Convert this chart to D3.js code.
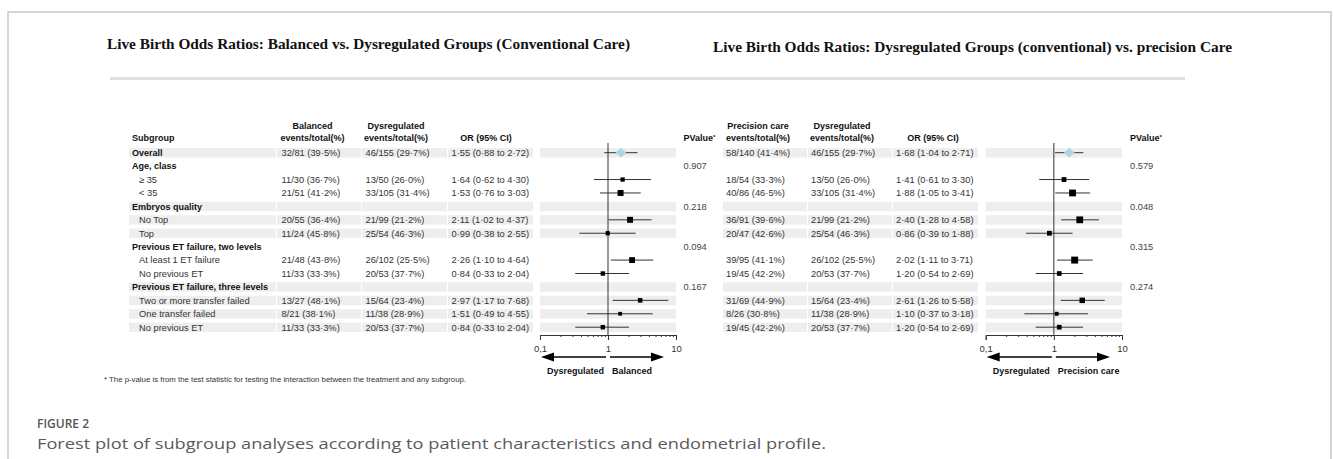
<!DOCTYPE html>
<html>
<head>
<meta charset="utf-8">
<title>Forest plot | D3</title>
<script src="https://d3js.org/d3.v7.min.js" charset="utf-8"></script>
<style>
body { margin: 0; background: white; }
text { font-family: "Liberation Sans", Arial, sans-serif; }
.title { font-family: "Liberation Serif", "Times New Roman", serif; font-weight: bold; font-size: 15px; fill: #111; }
.hd { font-weight: bold; font-size: 9px; fill: #111; }
.cell { font-size: 9.3px; fill: #333; }
.pv { font-size: 9.3px; fill: #444; }
.cap1 { font-family: "Open Sans", sans-serif; font-weight: 600; font-size: 12px; fill: #555; }
.cap2 { font-family: "Open Sans", sans-serif; font-size: 15px; fill: #5a5a5a; }
</style>
</head>
<body>
<script>
// rows of the table
var subgroups = ["Overall", "Age, class", "\u2265 35", "< 35", "Embryos quality", "No Top", "Top",
  "Previous ET failure, two levels", "At least 1 ET failure", "No previous ET",
  "Previous ET failure, three levels", "Two or more transfer failed", "One transfer failed", "No previous ET"];
var isHeader = [1, 1, 0, 0, 1, 0, 0, 1, 0, 0, 1, 0, 0, 0];
var shaded   = [1, 0, 0, 0, 1, 1, 1, 0, 0, 0, 1, 1, 1, 1];

// left panel: balanced vs dysregulated (conventional care)
var balEvents = [32, null, 11, 21, null, 20, 11, null, 21, 11, null, 13, 8, 11];
var balTotal  = [81, null, 30, 51, null, 55, 24, null, 48, 33, null, 27, 21, 33];
var dysEvents = [46, null, 13, 33, null, 21, 25, null, 26, 20, null, 15, 11, 20];
var dysTotal  = [155, null, 50, 105, null, 99, 54, null, 102, 53, null, 64, 38, 53];
var leftOR = [1.55, null, 1.64, 1.53, null, 2.11, 0.99, null, 2.26, 0.84, null, 2.97, 1.51, 0.84];
var leftLo = [0.88, null, 0.62, 0.76, null, 1.02, 0.38, null, 1.10, 0.33, null, 1.17, 0.49, 0.33];
var leftHi = [2.72, null, 4.30, 3.03, null, 4.37, 2.55, null, 4.64, 2.04, null, 7.68, 4.55, 2.04];
var leftP  = ["", "0.907", "", "", "0.218", "", "", "0.094", "", "", "0.167", "", "", ""];

// right panel: dysregulated (conventional) vs precision care
var preEvents = [58, null, 18, 40, null, 36, 20, null, 39, 19, null, 31, 8, 19];
var preTotal  = [140, null, 54, 86, null, 91, 47, null, 95, 45, null, 69, 26, 45];
var rightOR = [1.68, null, 1.41, 1.88, null, 2.40, 0.86, null, 2.02, 1.20, null, 2.61, 1.10, 1.20];
var rightLo = [1.04, null, 0.61, 1.05, null, 1.28, 0.39, null, 1.11, 0.54, null, 1.26, 0.37, 0.54];
var rightHi = [2.71, null, 3.30, 3.41, null, 4.58, 1.88, null, 3.71, 2.69, null, 5.58, 3.18, 2.69];
var rightP  = ["", "0.579", "", "", "0.048", "", "", "0.315", "", "", "0.274", "", "", ""];

var majorTicks = [0.1, 1, 10];
var minorTicks = [0.2, 0.3, 0.4, 0.5, 0.6, 0.7, 0.8, 0.9, 2, 3, 4, 5, 6, 7, 8, 9];

var width = 1333, height = 459;
var svg = d3.select("body").append("svg")
  .attr("width", width).attr("height", height);

// frame + titles
svg.append("path").attr("d", "M8,460V12H1331V460")
  .attr("fill", "none").attr("stroke", "#c6c6ce").attr("stroke-width", 1.5);
svg.append("text").attr("class", "title").attr("x", 107).attr("y", 49)
  .attr("textLength", 523).attr("lengthAdjust", "spacingAndGlyphs")
  .text("Live Birth Odds Ratios: Balanced vs. Dysregulated Groups (Conventional Care)");
svg.append("text").attr("class", "title").attr("x", 713).attr("y", 52)
  .attr("textLength", 519).attr("lengthAdjust", "spacingAndGlyphs")
  .text("Live Birth Odds Ratios: Dysregulated Groups (conventional) vs. precision Care");
svg.append("rect").attr("x", 110).attr("y", 77).attr("width", 1075).attr("height", 3).attr("fill", "#e0e0e0");

var y = d3.scaleLinear().domain([0, 13]).range([152.7, 327.2]);
var dot = function(v) { return d3.format(".2f")(v).replace(".", "\u00b7"); };
var pct = function(e, t) { return e == null ? "" : e + "/" + t + " (" + d3.format(".1f")(e / t * 100).replace(".", "\u00b7") + "%)"; };
var orText = function(o, l, h) { return o == null ? "" : dot(o) + " (" + dot(l) + " to " + dot(h) + ")"; };
var size = d3.scaleLinear().domain([50, 200]).range([3.6, 7]);

function panel(p) {
  var g = svg.append("g");
  var x = d3.scaleLog().domain([0.1, 10]).range(p.range);
  var idx = d3.range(subgroups.length);

  // shaded row bands, one piece per column
  p.cols.forEach(function(c) {
    g.selectAll(null).data(idx.filter(function(i) { return shaded[i]; })).enter()
      .append("rect")
      .attr("x", c[0]).attr("width", c[1] - c[0])
      .attr("y", function(i) { return y(i) - 4.6; }).attr("height", 9.4)
      .attr("fill", "#eeeeee");
  });

  // column headers
  p.heads.forEach(function(h) {
    h.lines.forEach(function(t, k) {
      g.append("text").attr("class", "hd").attr("x", h.x).attr("y", 141 - (h.lines.length - 1 - k) * 12)
        .attr("text-anchor", h.anchor || "middle").text(t);
    });
  });

  // table cells
  p.texts.forEach(function(c) {
    g.selectAll(null).data(idx).enter().append("text")
      .attr("class", function(i) { return c.bold && isHeader[i] ? "hd" : "cell"; })
      .attr("x", function(i) { return c.x + (c.indent && !isHeader[i] ? 7 : 0); })
      .attr("y", function(i) { return y(i) + 3.3; })
      .text(c.f);
  });

  g.selectAll(null).data(idx).enter().append("text").attr("class", "pv")
    .attr("x", p.px).attr("y", function(i) { return y(i) + 3.3; })
    .text(function(i) { return p.pv[i]; });
  var ph = g.append("text").attr("class", "hd").attr("x", p.px).attr("y", 141).text("PValue");
  ph.append("tspan").attr("font-size", 6).attr("dy", -2).text("*");

  // reference line at OR = 1
  g.append("line").attr("x1", x(1)).attr("x2", x(1)).attr("y1", 143).attr("y2", 335)
    .attr("stroke", "#333").attr("stroke-width", 1);

  var pts = idx.filter(function(i) { return p.or[i] != null; });
  g.selectAll(null).data(pts).enter().append("line")
    .attr("x1", function(i) { return x(p.lo[i]); }).attr("x2", function(i) { return x(p.hi[i]); })
    .attr("y1", function(i) { return y(i); }).attr("y2", function(i) { return y(i); })
    .attr("stroke", "#333").attr("stroke-width", 1);
  g.selectAll(null).data(pts.filter(function(i) { return i > 0; })).enter().append("rect")
    .attr("x", function(i) { return x(p.or[i]) - size(p.n[i]) / 2; })
    .attr("y", function(i) { return y(i) - size(p.n[i]) / 2; })
    .attr("width", function(i) { return size(p.n[i]); })
    .attr("height", function(i) { return size(p.n[i]); })
    .attr("fill", "#000");
  var dx = x(p.or[0]), dy = y(0);
  g.append("path").attr("d", "M" + (dx - 5.5) + "," + dy + "L" + dx + "," + (dy - 4.8) + "L" + (dx + 5.5) + "," + dy + "L" + dx + "," + (dy + 4.8) + "Z")
    .attr("fill", "#a8d8e8");

  // log axis
  var ax = g.append("g").attr("transform", "translate(0,335)")
    .call(d3.axisBottom(x).tickValues(majorTicks).tickSize(5).tickSizeOuter(5)
      .tickFormat(function(d) { return d === 0.1 ? "0,1" : d; }));
  ax.selectAll("text").attr("font-size", 9.5).attr("fill", "#333").attr("dy", "0.9em")
    .attr("font-family", "Liberation Sans, Arial, sans-serif");
  ax.selectAll("path, line").attr("stroke", "#333");
  var mx = g.append("g").attr("transform", "translate(0,335)")
    .call(d3.axisBottom(x).tickValues(minorTicks).tickSize(2).tickFormat(""));
  mx.select(".domain").remove();
  mx.selectAll("line").attr("stroke", "#333");

  // direction arrows
  var ay = 357;
  g.append("line").attr("x1", x(1) - 2).attr("x2", x(0.1) + 12).attr("y1", ay).attr("y2", ay)
    .attr("stroke", "#000").attr("stroke-width", 1.5);
  g.append("path").attr("d", "M" + (x(0.1) + 1) + "," + ay + "l13,-4.5v9z").attr("fill", "#000");
  g.append("line").attr("x1", x(1) + 2).attr("x2", x(10) - 24).attr("y1", ay).attr("y2", ay)
    .attr("stroke", "#000").attr("stroke-width", 1.5);
  g.append("path").attr("d", "M" + (x(10) - 12) + "," + ay + "l-13,-4.5v9z").attr("fill", "#000");
  g.append("text").attr("class", "hd").attr("x", x(1) - 4).attr("y", 373.5)
    .attr("text-anchor", "end").text("Dysregulated");
  g.append("text").attr("class", "hd").attr("x", x(1) + 4).attr("y", 373.5).text(p.rightLabel);
}

panel({
  range: [540, 676],
  cols: [[129, 276], [277, 361], [362, 447], [448, 533], [540, 676]],
  heads: [
    { x: 132, lines: ["Subgroup"], anchor: "start" },
    { x: 312.5, lines: ["Balanced", "events/total(%)"] },
    { x: 396, lines: ["Dysregulated", "events/total(%)"] },
    { x: 486, lines: ["OR (95% CI)"] }
  ],
  texts: [
    { x: 132, bold: true, indent: true, f: function(i) { return subgroups[i]; } },
    { x: 281.5, f: function(i) { return pct(balEvents[i], balTotal[i]); } },
    { x: 365.5, f: function(i) { return pct(dysEvents[i], dysTotal[i]); } },
    { x: 451.5, f: function(i) { return orText(leftOR[i], leftLo[i], leftHi[i]); } }
  ],
  or: leftOR, lo: leftLo, hi: leftHi,
  n: balTotal.map(function(t, i) { return t == null ? null : t + dysTotal[i]; }),
  pv: leftP, px: 683.5, rightLabel: "Balanced"
});

panel({
  range: [985.7, 1122],
  cols: [[723, 807], [808, 892], [893, 978], [985.7, 1122]],
  heads: [
    { x: 758, lines: ["Precision care", "events/total(%)"] },
    { x: 842, lines: ["Dysregulated", "events/total(%)"] },
    { x: 933, lines: ["OR (95% CI)"] }
  ],
  texts: [
    { x: 726, f: function(i) { return pct(preEvents[i], preTotal[i]); } },
    { x: 811, f: function(i) { return pct(dysEvents[i], dysTotal[i]); } },
    { x: 896, f: function(i) { return orText(rightOR[i], rightLo[i], rightHi[i]); } }
  ],
  or: rightOR, lo: rightLo, hi: rightHi,
  n: preTotal.map(function(t, i) { return t == null ? null : t + dysTotal[i]; }),
  pv: rightP, px: 1130, rightLabel: "Precision care"
});

svg.append("text").attr("x", 104).attr("y", 382).attr("font-size", 6.5).attr("fill", "#333")
  .attr("textLength", 362).attr("lengthAdjust", "spacingAndGlyphs")
  .text("* The p-value is from the test statistic for testing the interaction between the treatment and any subgroup.");

svg.append("text").attr("class", "cap1").attr("x", 37).attr("y", 428).text("FIGURE 2");
svg.append("text").attr("class", "cap2").attr("x", 37).attr("y", 449)
  .attr("textLength", 789).attr("lengthAdjust", "spacingAndGlyphs")
  .text("Forest plot of subgroup analyses according to patient characteristics and endometrial profile.");
</script>
</body>
</html>
